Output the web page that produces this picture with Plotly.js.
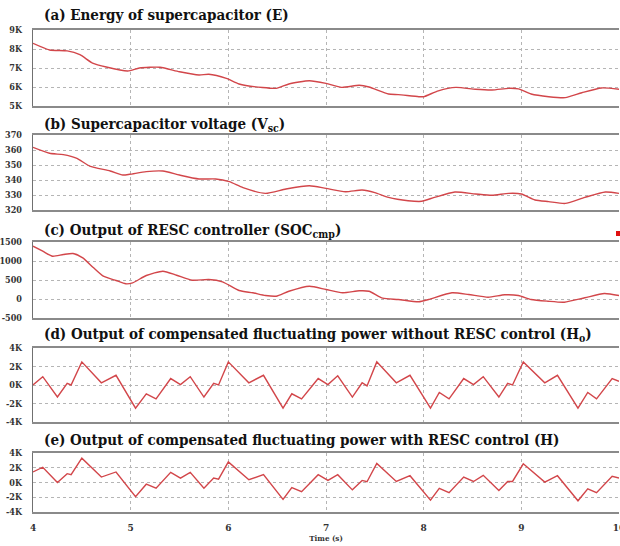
<!DOCTYPE html>
<html>
<head>
<meta charset="utf-8">
<script src="https://cdn.plot.ly/plotly-3.0.1.min.js"></script>
<style>
  html, body { margin: 0; padding: 0; background: #fff; }
  #chart { width: 620px; height: 546px; }
</style>
</head>
<body>
<div id="chart"></div>
<script>
// (a) supercapacitor energy
const tEnergy = [4.0, 4.17, 4.35, 4.48, 4.61, 4.75, 4.97, 5.09, 5.3, 5.5, 5.7, 5.8, 5.98, 6.11, 6.35, 6.49, 6.62, 6.83, 7.0, 7.16, 7.34, 7.44, 7.64, 7.74, 7.95, 8.0, 8.15, 8.33, 8.53, 8.7, 8.87, 8.97, 9.1, 9.28, 9.45, 9.62, 9.82, 10.0];
const energy = [8300, 7950, 7900, 7700, 7260, 7050, 6840, 7000, 7040, 6800, 6630, 6670, 6450, 6160, 5970, 5930, 6160, 6330, 6190, 5980, 6090, 6000, 5630, 5600, 5490, 5490, 5800, 5980, 5880, 5840, 5930, 5900, 5630, 5490, 5440, 5700, 5950, 5880];

// (b) supercapacitor voltage
const tVoltage = [4.0, 4.17, 4.31, 4.45, 4.58, 4.79, 4.92, 4.99, 5.16, 5.33, 5.5, 5.7, 5.87, 6.01, 6.15, 6.38, 6.59, 6.83, 7.0, 7.2, 7.37, 7.5, 7.64, 7.84, 7.98, 8.11, 8.32, 8.53, 8.7, 8.87, 9.0, 9.14, 9.28, 9.45, 9.65, 9.86, 10.0];
const voltage = [361.8, 357.8, 356.9, 354.4, 349.3, 346, 343.3, 343.8, 345.6, 346, 343.3, 340.7, 340.7, 338.9, 334.9, 331.1, 334, 336.2, 334.4, 332.2, 333.3, 331.6, 328.4, 326.2, 325.8, 328.4, 332, 330.7, 329.8, 331.1, 330.7, 326.7, 325.6, 324.4, 328.4, 332, 331.1];

// (c) RESC controller output
const tSoc = [4.0, 4.1, 4.2, 4.31, 4.41, 4.51, 4.62, 4.72, 4.85, 4.95, 5.02, 5.16, 5.33, 5.47, 5.63, 5.8, 5.94, 6.11, 6.25, 6.38, 6.49, 6.62, 6.83, 7.0, 7.17, 7.34, 7.44, 7.58, 7.74, 7.95, 8.05, 8.29, 8.46, 8.66, 8.83, 8.97, 9.1, 9.27, 9.44, 9.65, 9.85, 10.0];
const socCmp = [1390, 1258, 1126, 1171, 1197, 1083, 820, 600, 487, 400, 426, 618, 732, 626, 495, 513, 452, 224, 163, 92, 74, 205, 337, 250, 163, 216, 205, 21, -13, -74, -13, 163, 118, 47, 111, 92, -13, -58, -84, 32, 145, 92];

// (d) and (e) compensated fluctuating power
const tPower = [4.0, 4.1, 4.25, 4.35, 4.39, 4.5, 4.7, 4.85, 5.05, 5.16, 5.26, 5.41, 5.51, 5.61, 5.75, 5.85, 5.9, 6.0, 6.21, 6.36, 6.56, 6.65, 6.75, 6.92, 7.02, 7.12, 7.27, 7.37, 7.42, 7.52, 7.72, 7.86, 8.07, 8.16, 8.26, 8.41, 8.51, 8.61, 8.77, 8.86, 8.91, 9.02, 9.24, 9.37, 9.58, 9.68, 9.77, 9.93, 10.0];
const powerNoResc = [0, 900, -1300, 170, 0, 2500, 240, 1050, -2500, -950, -1500, 700, 50, 900, -1300, 170, 0, 2500, 240, 1050, -2500, -950, -1500, 700, 50, 1000, -1300, 240, -100, 2500, 240, 1050, -2500, -800, -1500, 700, 50, 900, -1300, 170, 0, 2500, 240, 1050, -2500, -800, -1500, 700, 400];
const powerResc = [1430, 2070, 0, 1200, 1060, 3300, 740, 1430, -1930, -230, -780, 1380, 600, 1380, -780, 600, 460, 2800, 370, 1060, -2300, -690, -1240, 1060, 280, 1060, -1000, 280, 100, 2580, 140, 920, -2390, -780, -1380, 740, 140, 970, -1100, 140, 140, 2530, 50, 920, -2480, -870, -1380, 830, 600];

// tick labels
const timeTicks = [4, 5, 6, 7, 8, 9, 10];
const energyTicks = [5000, 6000, 7000, 8000, 9000];
const energyTickText = ['5K', '6K', '7K', '8K', '9K'];
const voltageTicks = [320, 330, 340, 350, 360, 370];
const socTicks = [-500, 0, 500, 1000, 1500];
const powerTicks = [-4000, -2000, 0, 2000, 4000];
const powerTickText = ['-4K', '-2K', '0K', '2K', '4K'];

const panelTitles = [
  '(a) Energy of supercapacitor (E)',
  '(b) Supercapacitor voltage (V<sub>sc</sub>)',
  '(c) Output of RESC controller (SOC<sub>cmp</sub>)',
  '(d) Output of compensated fluctuating power without RESC control (H<sub>o</sub>)',
  '(e) Output of compensated fluctuating power with RESC control (H)'
];

const W = 620, H = 546;
const py = p => 1 - p / H;           // pixel row -> paper y
const px = p => p / W;               // pixel col -> paper x

const serif = 'DejaVu Serif Condensed, DejaVu Serif';
const lineColor = '#d2464a';
const gridColor = '#b5b5b5';

// vertical pixel extents of each panel: [top, bottom]
const boxes = [[30, 106], [135, 210], [242, 318], [348, 422], [453, 512]];
const titleRows = [15, 125, 230, 334, 440];

const series = [
  [tEnergy, energy, 'spline'],
  [tVoltage, voltage, 'spline'],
  [tSoc, socCmp, 'spline'],
  [tPower, powerNoResc, 'linear'],
  [tPower, powerResc, 'linear']
];

const traces = series.map((s, i) => ({
  x: s[0], y: s[1],
  xaxis: i === 0 ? 'x' : 'x' + (i + 1),
  yaxis: i === 0 ? 'y' : 'y' + (i + 1),
  type: 'scatter', mode: 'lines',
  line: { color: lineColor, width: 1.4, shape: s[2], smoothing: 0.6 },
  hoverinfo: 'skip', showlegend: false
}));

const yTicks = [
  [energyTicks, energyTickText, [5000, 9000]],
  [voltageTicks, voltageTicks.map(String), [320, 370]],
  [socTicks, socTicks.map(String), [-500, 1500]],
  [powerTicks, powerTickText, [-4000, 4000]],
  [powerTicks, powerTickText, [-4000, 4000]]
];

const layout = {
  width: W, height: H,
  margin: { l: 0, r: 0, t: 0, b: 0 },
  paper_bgcolor: '#fff', plot_bgcolor: '#fff',
  showlegend: false,
  font: { family: serif },
  annotations: [], shapes: []
};

for (let i = 0; i < 5; i++) {
  const xs = i === 0 ? '' : String(i + 1);
  const dom = [py(boxes[i][1]), py(boxes[i][0])];
  layout['xaxis' + xs] = {
    domain: [px(33), px(619)],
    anchor: 'y' + xs,
    range: [4, 10],
    tickvals: timeTicks,
    showticklabels: i === 4,
    ticklabeloverflow: 'allow',
    ticks: '',
    ticklabelstandoff: 5,
    tickfont: { family: serif, size: 10, color: '#333', weight: 'bold' },
    showgrid: true, gridcolor: gridColor, griddash: 'dot', gridwidth: 1,
    showline: true, linecolor: '#8a8a8a', linewidth: 2, mirror: true,
    zeroline: false, fixedrange: true,
    title: i === 4 ? { text: 'Time (s)', font: { family: serif, size: 8, color: '#333', weight: 'bold' }, standoff: 0 } : undefined
  };
  layout['yaxis' + xs] = {
    domain: dom,
    anchor: 'x' + xs,
    range: yTicks[i][2],
    tickvals: yTicks[i][0],
    ticktext: yTicks[i][1],
    ticks: '',
    ticklabelstandoff: 8,
    tickfont: { family: serif, size: 9, color: '#333', weight: 'bold' },
    showgrid: true, gridcolor: gridColor, griddash: 'dot', gridwidth: 1,
    showline: true, linecolor: '#707070', linewidth: 1.2, mirror: false,
    zeroline: false, fixedrange: true
  };
  layout.annotations.push({
    xref: 'paper', yref: 'paper',
    x: px(42), y: py(titleRows[i]),
    xanchor: 'left', yanchor: 'middle',
    text: '<b>' + panelTitles[i] + '</b>', showarrow: false,
    font: { family: serif, size: 15, color: '#111' }
  });
}

// legend marker peeking in at the right edge
layout.shapes.push({
  type: 'rect', xref: 'paper', yref: 'paper',
  x0: px(616), x1: px(621), y0: py(236), y1: py(231),
  fillcolor: '#e01010', line: { width: 0 }
});

Plotly.newPlot('chart', traces, layout, { displayModeBar: false, staticPlot: true });
</script>
</body>
</html>
